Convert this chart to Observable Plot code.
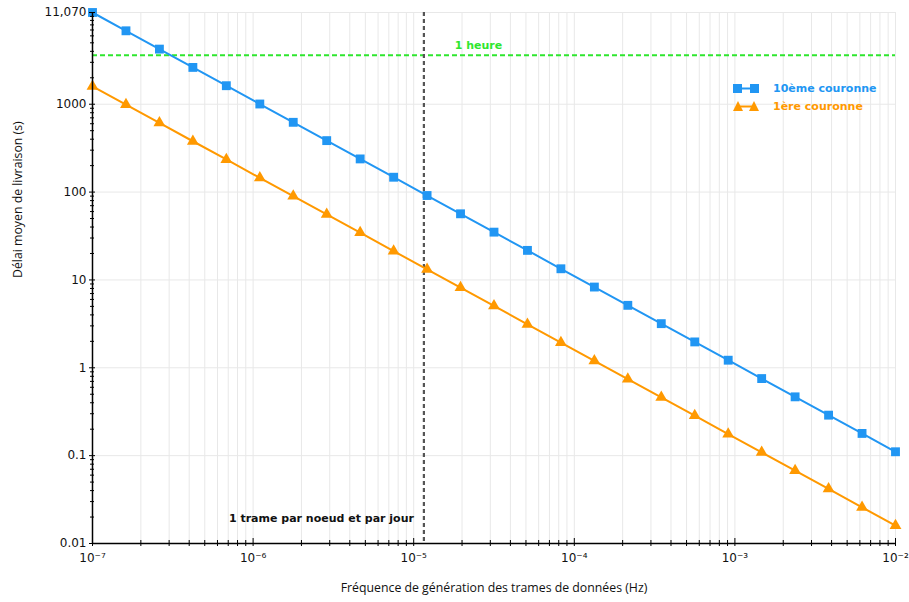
<!DOCTYPE html>
<html>
<head>
<meta charset="utf-8">
<script src="https://cdn.jsdelivr.net/npm/d3@7"></script>
<script src="https://cdn.jsdelivr.net/npm/@observablehq/plot@0.6"></script>
<style>
  html, body { margin: 0; padding: 0; background: #fff; }
  #wrap { position: relative; width: 909px; height: 602px; }
  #legend { position: absolute; left: 733px; top: 79px; font-family: "DejaVu Sans", sans-serif; font-size: 11px; font-weight: bold; }
  #legend .row { display: flex; align-items: center; height: 18px; }
  #legend svg { margin-right: 14px; }
</style>
</head>
<body>
<div id="wrap"><div id="legend"></div></div>
<script>
// Frequencies (Hz)
const freq = [1e-7, 1.616e-7, 2.61e-7, 4.217e-7, 6.813e-7, 1.101e-6, 1.778e-6, 2.873e-6, 4.642e-6, 7.499e-6,
  1.2115e-5, 1.957e-5, 3.162e-5, 5.109e-5, 8.254e-5, 1.3335e-4, 2.154e-4, 3.48e-4, 5.623e-4, 9.085e-4,
  1.4678e-3, 2.371e-3, 3.831e-3, 6.19e-3, 1e-2];
// Delay (s), 10th ring
const ring10 = [11070, 6852, 4241, 2625, 1625, 1006, 622.6, 385.3, 238.5, 147.6,
  91.4, 56.6, 35.0, 21.7, 13.4, 8.30, 5.14, 3.18, 1.97, 1.22,
  0.754, 0.467, 0.289, 0.179, 0.1107];
// Delay (s), 1st ring
const ring1 = [1600, 990, 613, 379, 235, 145, 90, 55.7, 34.5, 21.3,
  13.2, 8.18, 5.06, 3.13, 1.94, 1.20, 0.743, 0.460, 0.285, 0.176,
  0.109, 0.0675, 0.0418, 0.0258, 0.016];
const seriesNames = ["10ème couronne", "1ère couronne"];
const seriesColors = ["#2196f3", "#ff9900"];
const xMajor = [1e-7, 1e-6, 1e-5, 1e-4, 1e-3, 1e-2];
const yMajor = [0.01, 0.1, 1, 10, 100, 1000, 11070];
const yLabels = ["0.01", "0.1", "1", "10", "100", "1000", "11,070"];
const oneHour = 3600;
const oneFramePerDay = 1 / 86400;
const annotHour = "1 heure";
const annotDay = "1 trame par noeud et par jour";
const xTitle = "Fréquence de génération des trames de données (Hz)";
const yTitle = "Délai moyen de livraison (s)";

const sup = {"-": "⁻", "0": "⁰", "1": "¹", "2": "²", "3": "³", "4": "⁴", "5": "⁵", "6": "⁶", "7": "⁷", "8": "⁸", "9": "⁹"};
const fmtPow = d => "10" + String(Math.round(Math.log10(d))).split("").map(c => sup[c]).join("");

const xMinor = [];
for (let e = -7; e < -2; e++) for (let m = 2; m <= 9; m++) xMinor.push(m * Math.pow(10, e));
const xAll = xMajor.concat(xMinor);
const yMinor = [];
for (let e = -2; e < 4; e++) for (let m = 2; m <= 9; m++) yMinor.push(m * Math.pow(10, e));
yMinor.push(10000);

const d10 = freq.map((f, i) => ({f, v: ring10[i]}));
const d1 = freq.map((f, i) => ({f, v: ring1[i]}));

const plot = Plot.plot({
  width: 909, height: 602,
  marginLeft: 92, marginRight: 14, marginTop: 12, marginBottom: 59,
  x: {type: "log", domain: [1e-7, 1e-2]},
  y: {type: "log", domain: [0.01, 11070]},
  style: {fontFamily: "DejaVu Sans, sans-serif", fontSize: "12px", background: "#fff"},
  marks: [
    Plot.gridX(xAll, {stroke: "#e8e8e8", strokeOpacity: 1}),
    Plot.gridY(yMajor, {stroke: "#e8e8e8", strokeOpacity: 1}),
    Plot.ruleY([oneHour], {stroke: "#2ee62e", strokeWidth: 2, strokeDasharray: "5,3"}),
    Plot.ruleX([oneFramePerDay], {stroke: "#555", strokeWidth: 2.2, strokeDasharray: "4,3"}),
    Plot.text([annotHour], {x: 2.53e-5, y: oneHour, dy: -10, fill: "#2ee62e", fontWeight: "bold", fontSize: 11}),
    Plot.text([annotDay], {x: oneFramePerDay, frameAnchor: "bottom", dy: -22, dx: -10, textAnchor: "end", fill: "#111", fontWeight: "bold", fontSize: 11}),
    Plot.line(d10, {x: "f", y: "v", stroke: seriesColors[0], strokeWidth: 2}),
    Plot.dot(d10, {x: "f", y: "v", symbol: "square", r: 5, fill: seriesColors[0], stroke: "none"}),
    Plot.line(d1, {x: "f", y: "v", stroke: seriesColors[1], strokeWidth: 2}),
    Plot.dot(d1, {x: "f", y: "v", symbol: "triangle", r: 4.4, fill: seriesColors[1], stroke: "none"}),
    Plot.ruleX([1e-7], {stroke: "#000", strokeWidth: 1.5}),
    Plot.ruleY([0.01], {stroke: "#000", strokeWidth: 1.5}),
    Plot.axisX(xMinor, {tickSize: 6, dy: -3, tickFormat: () => "", label: null, stroke: "#000"}),
    Plot.axisX(xMajor, {tickSize: 8, dy: -5, tickFormat: () => "", label: null, stroke: "#000"}),
    Plot.axisX(xMajor, {tickSize: 0, tickPadding: 10, tickFormat: fmtPow, label: null, fontSize: 12, fill: "#111"}),
    Plot.axisY(yMinor, {tickSize: 4, dx: 2, tickFormat: () => "", label: null, stroke: "#000"}),
    Plot.axisY(yMajor, {tickSize: 6, dx: 3, tickFormat: () => "", label: null, stroke: "#000"}),
    Plot.axisY(yMajor, {tickSize: 0, tickPadding: 6, tickFormat: (d, i) => yLabels[yMajor.indexOf(d)], label: null, fontSize: 12, fill: "#111"}),
    Plot.text([xTitle], {frameAnchor: "bottom", dy: 48, fontFamily: "Open Sans", fontSize: 12.3, fill: "#111"}),
    Plot.text([yTitle], {frameAnchor: "left", dx: -74, rotate: -90, fontFamily: "Open Sans", fontSize: 12.3, fill: "#111"})
  ]
});
document.getElementById("wrap").prepend(plot);

// Legend
const legend = document.getElementById("legend");
seriesNames.forEach((name, i) => {
  const row = document.createElement("div");
  row.className = "row";
  const sym = i === 0
    ? `<rect x="0" y="4" width="9" height="9" fill="${seriesColors[i]}"/><rect x="17" y="4" width="9" height="9" fill="${seriesColors[i]}"/>`
    : `<path d="M0,13 L5,3 L10,13Z" fill="${seriesColors[i]}"/><path d="M16,13 L21,3 L26,13Z" fill="${seriesColors[i]}"/>`;
  row.innerHTML = `<svg width="26" height="16"><line x1="4" x2="22" y1="8.5" y2="8.5" stroke="${seriesColors[i]}" stroke-width="2"/>${sym}</svg><span style="color:${seriesColors[i]}">${name}</span>`;
  legend.appendChild(row);
});
</script>
</body>
</html>
